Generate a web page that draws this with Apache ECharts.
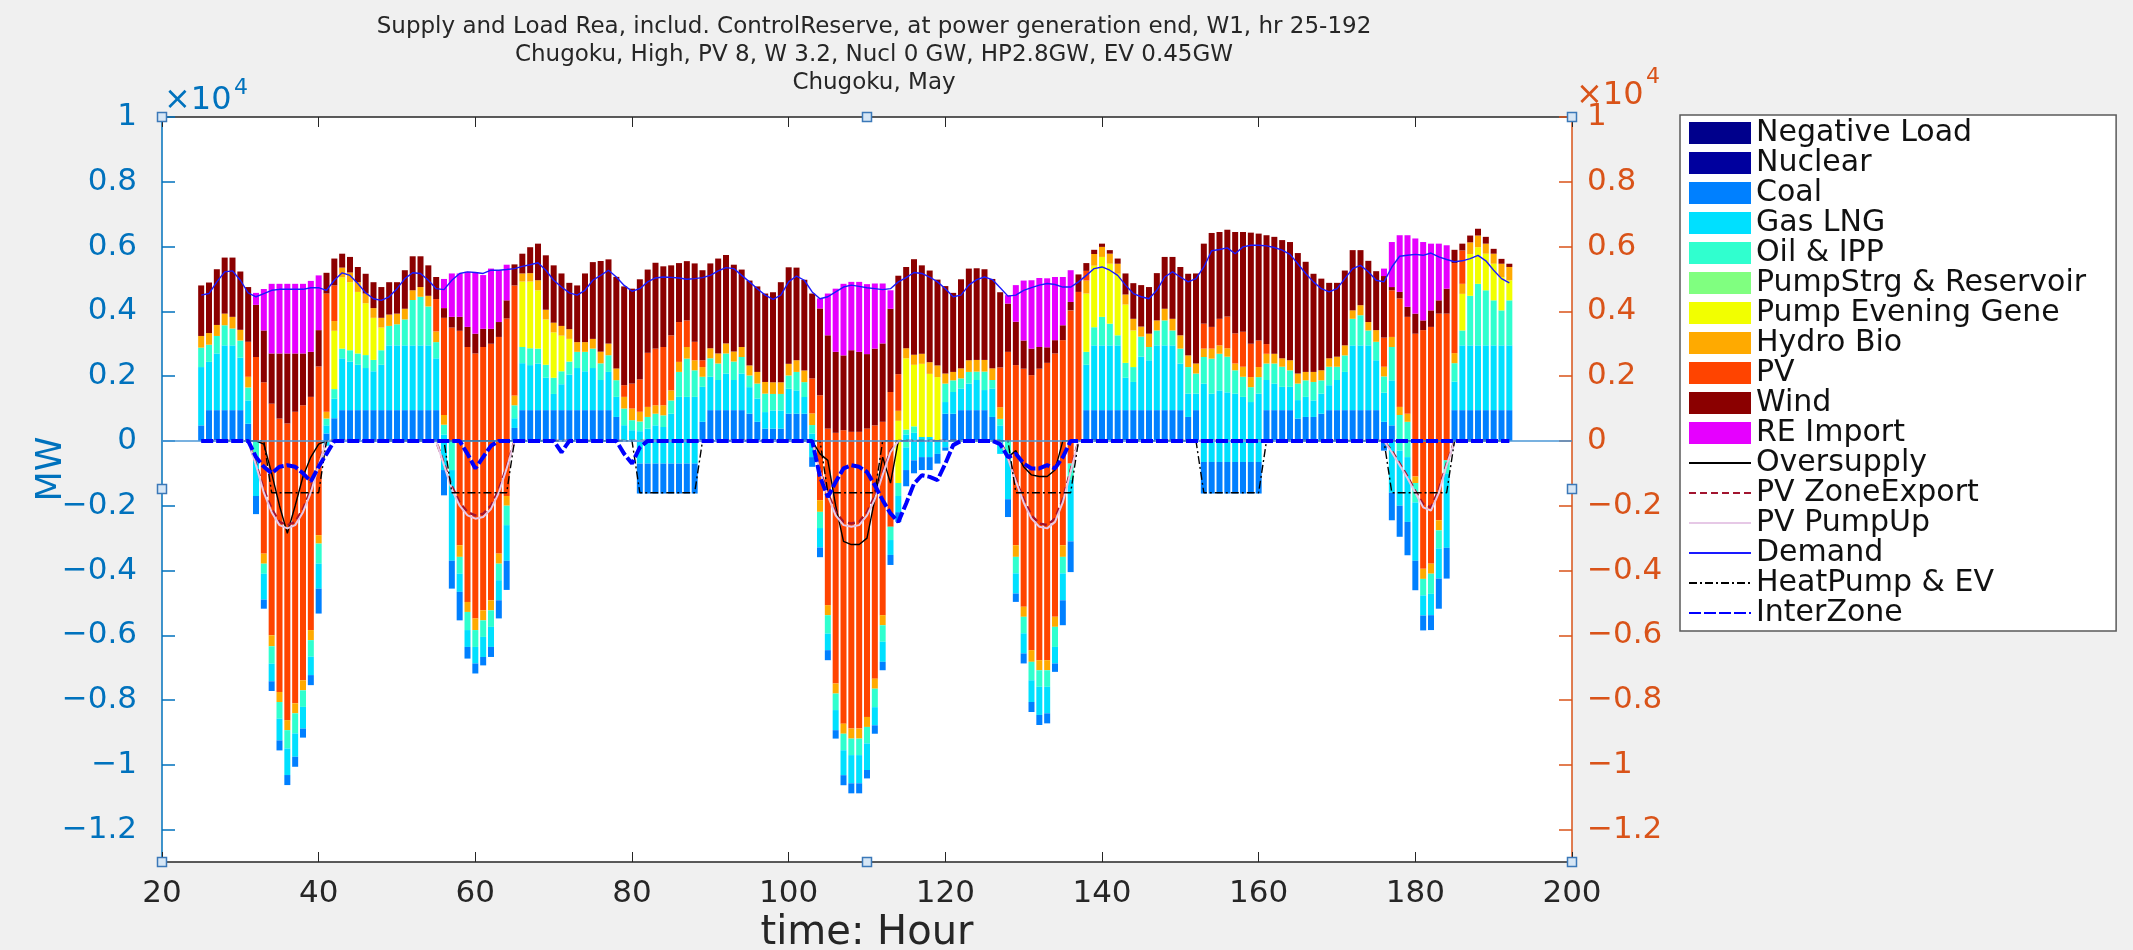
<!DOCTYPE html>
<html><head><meta charset="utf-8">
<script src="https://cdn.jsdelivr.net/npm/echarts@6/dist/echarts.min.js"></script>
<style>html,body{margin:0;padding:0;background:#f0f0f0;} #c{width:2133px;height:950px;}</style>
</head><body><div id="c"></div><script>
// x axis categories (hours 20..200) and the hours that carry data (25..192)
const axisHours = [20,21,22,23,24,25,26,27,28,29,30,31,32,33,34,35,36,37,38,39,40,41,42,43,44,45,46,47,48,49,50,51,52,53,54,55,56,57,58,59,
60,61,62,63,64,65,66,67,68,69,70,71,72,73,74,75,76,77,78,79,80,81,82,83,84,85,86,87,88,89,90,91,92,93,94,95,96,97,98,99,
100,101,102,103,104,105,106,107,108,109,110,111,112,113,114,115,116,117,118,119,120,121,122,123,124,125,126,127,128,129,130,131,132,133,134,135,136,137,138,139,
140,141,142,143,144,145,146,147,148,149,150,151,152,153,154,155,156,157,158,159,160,161,162,163,164,165,166,167,168,169,170,171,172,173,174,175,176,177,178,179,
180,181,182,183,184,185,186,187,188,189,190,191,192,193,194,195,196,197,198,199,200];
const hours = [
25,26,27,28,29,30,31,32,33,34,35,36,37,38,39,40,41,42,43,44,45,46,47,48,
49,50,51,52,53,54,55,56,57,58,59,60,61,62,63,64,65,66,67,68,69,70,71,72,
73,74,75,76,77,78,79,80,81,82,83,84,85,86,87,88,89,90,91,92,93,94,95,96,
97,98,99,100,101,102,103,104,105,106,107,108,109,110,111,112,113,114,115,116,117,118,119,120,
121,122,123,124,125,126,127,128,129,130,131,132,133,134,135,136,137,138,139,140,141,142,143,144,
145,146,147,148,149,150,151,152,153,154,155,156,157,158,159,160,161,162,163,164,165,166,167,168,
169,170,171,172,173,174,175,176,177,178,179,180,181,182,183,184,185,186,187,188,189,190,191,192];

const coal = [
480,950,950,950,950,950,530,0,0,0,0,0,0,0,0,0,230,700,950,950,950,950,950,950,
950,950,950,950,950,950,950,0,0,0,0,0,0,0,0,0,400,950,950,950,950,950,950,950,
950,950,950,950,950,740,0,0,0,0,0,0,0,0,0,0,590,950,950,950,950,950,840,590,
380,380,380,840,840,840,0,0,0,0,0,0,0,0,0,0,0,0,0,0,0,0,0,840,
840,950,950,950,950,740,0,0,0,0,0,0,0,0,0,0,0,950,950,950,950,950,950,950,
950,950,950,950,950,950,740,950,0,0,0,0,0,0,0,0,950,950,950,950,690,740,740,840,
950,950,950,950,950,950,950,590,480,0,0,0,0,0,0,0,950,950,950,950,950,950,950,950];
const gas = [
1800,1490,1750,2000,2000,1620,720,0,0,0,0,0,0,0,0,0,250,600,1600,1500,1400,1300,1200,1400,
2000,2000,2000,2000,2000,2000,1600,200,0,0,0,0,0,0,0,0,300,1450,1390,1440,1000,500,800,1100,
1300,1200,1300,930,1180,620,485,330,300,380,480,430,840,1360,1360,1360,1080,1030,930,1130,930,1130,820,720,
510,560,560,770,720,515,230,0,0,0,0,0,0,0,0,0,0,0,200,250,120,120,0,360,
670,670,820,930,620,880,480,0,0,0,0,0,0,0,0,0,0,1400,2000,2000,2000,2000,1000,870,
1650,1540,2000,2000,2000,1440,720,510,1770,1460,1560,1500,1460,1360,1200,1460,930,820,720,720,570,620,510,620,
770,930,1180,2000,2000,2000,1540,900,1390,0,0,0,0,0,0,0,880,2000,2000,2000,2000,2000,2000,2000];
const oil = [
600,530,540,620,520,530,400,0,0,0,0,0,0,0,0,0,210,300,300,350,350,400,350,450,
600,650,800,1400,1500,1200,500,300,0,0,0,0,0,0,0,0,400,500,520,460,400,500,400,400,
500,600,600,515,515,515,515,310,300,360,360,360,410,770,1180,820,310,570,510,620,570,510,360,460,
570,510,510,410,570,460,260,0,0,0,0,0,0,0,0,0,0,0,150,200,0,0,0,570,
360,310,360,260,570,260,200,0,0,0,0,0,0,0,0,0,0,400,560,880,670,310,460,460,
620,410,460,770,460,460,820,620,820,1080,1130,1100,720,620,460,510,510,620,620,510,510,510,570,410,
570,410,510,820,930,460,570,500,1030,800,590,0,0,0,0,0,570,460,1530,1900,1700,1390,1080,1390];
const pumpEvening = [
0,0,0,0,0,0,0,0,0,0,0,0,0,0,0,0,0,1800,2200,2100,1900,1600,1300,700,
0,0,0,0,0,0,0,0,0,0,0,0,0,0,0,0,0,2020,2060,1800,1400,1400,1100,700,
0,0,0,0,0,0,0,0,0,0,0,0,0,0,0,0,0,0,0,0,0,0,0,0,
0,0,0,0,0,0,0,0,0,0,0,0,0,0,0,0,0,620,2200,1900,2260,1950,1970,0,
0,0,0,0,0,0,0,0,0,0,0,0,0,0,0,0,0,1800,1900,1850,1850,1900,1800,1130,
0,0,0,0,0,0,0,0,0,0,0,0,0,0,0,0,0,0,0,0,0,0,0,0,
0,0,0,0,0,0,0,0,0,0,0,0,0,0,0,0,0,1130,1290,1130,1130,1130,1030,620];
const hydro = [
360,360,340,360,360,330,330,0,0,0,0,0,0,0,0,0,210,300,300,300,300,300,300,300,
350,330,330,300,300,330,330,300,0,0,0,0,0,0,0,0,300,250,260,310,300,300,300,300,
300,300,300,360,360,360,360,360,300,310,260,310,310,310,360,310,300,310,310,310,310,310,310,360,
360,360,360,360,360,360,360,0,0,0,0,0,0,0,0,0,0,310,310,310,310,360,360,310,
260,310,360,360,360,360,360,0,0,0,0,0,0,0,0,0,0,400,360,310,310,310,310,360,
310,410,310,360,360,410,360,310,260,310,260,260,210,310,310,310,300,300,260,310,310,260,310,310,
260,310,310,260,310,260,360,300,310,250,250,0,0,0,0,0,310,310,360,360,310,310,410,410];
const pv = [
0,0,0,0,0,0,1080,2590,1810,1150,690,540,900,1100,1360,2300,3650,1100,0,0,0,0,0,0,
0,0,0,0,0,0,1000,3000,3500,3400,2900,2700,2900,3000,3210,3780,3400,0,0,0,0,0,0,0,
0,0,0,0,0,0,360,770,1000,1670,1750,1800,1700,1230,820,570,210,0,0,0,0,0,0,0,
0,0,0,0,0,0,1080,1410,380,250,330,280,280,380,480,590,1510,1130,0,0,0,0,0,0,
0,0,0,0,0,0,1230,2750,2340,2230,2030,2230,2410,2700,3110,4030,4600,300,0,0,0,0,0,0,
0,0,0,0,0,0,0,0,770,670,820,980,930,1080,1030,820,300,0,0,0,0,0,0,0,
0,0,0,0,0,0,0,900,1440,3350,2990,3310,3420,3520,3930,3930,2780,1030,0,0,0,0,0,0];
const wind = [
1560,1560,1720,1730,1830,1800,1690,1610,1600,1550,2010,2160,1800,1600,1390,1120,640,830,430,480,470,610,800,950,
1000,970,1190,1050,950,940,680,300,330,430,620,610,560,460,460,560,650,610,800,1130,1680,1770,1620,1430,
1750,2120,2370,2800,2600,2830,3050,2930,3090,2570,2650,2490,2160,1820,1830,2420,2780,2620,2930,2730,2680,2390,2620,2640,
2730,2780,3090,2980,2860,2800,2620,2680,2880,2500,2310,2520,2470,2300,2370,2420,2570,3040,2510,2950,2730,2830,2650,2700,
2440,2750,2830,2830,2800,2760,2320,1490,1340,870,820,670,480,410,460,260,540,240,130,100,110,160,650,1100,
1280,1440,1460,1600,1910,2110,2520,2780,2470,2900,2680,2680,3130,3080,3430,3300,3360,3610,3650,3650,3720,3400,3030,2830,
2330,2280,2310,1860,1700,1890,1820,1900,100,200,310,620,300,510,410,770,410,210,210,210,210,150,150,100];
const reImport = [
0,0,0,0,0,0,0,370,1280,2150,2150,2150,2150,2150,2190,1690,0,0,0,0,0,0,0,0,
0,0,0,0,0,0,0,900,1340,1340,1700,1890,1660,1860,1600,1100,0,0,0,0,0,0,0,0,
0,0,0,0,0,0,0,0,0,0,0,0,0,0,0,0,0,0,0,0,0,0,0,0,
0,0,0,0,0,0,0,310,1290,1950,2210,2110,2160,2160,2010,1850,570,0,0,0,0,0,0,0,
0,0,0,0,0,0,0,260,1130,1850,2110,2130,2130,1950,1490,980,0,0,0,0,0,0,0,0,
0,0,0,0,0,0,0,0,0,0,0,0,0,0,0,0,0,0,0,0,0,0,0,0,
0,0,0,0,0,0,0,230,1390,1750,2210,2320,2420,2060,1750,1340,0,0,0,0,0,0,0,0];

// generation shifted below zero, stacked downward: PV nearest zero, coal deepest
const negPV = [
0,0,0,0,0,0,0,0,-3480,-6000,-7750,-8620,-8100,-7390,-5840,-2910,0,0,0,0,0,0,0,0,
0,0,0,0,0,0,0,0,0,-3220,-4970,-5480,-5230,-4920,-3480,-1700,0,0,0,0,0,0,0,0,
0,0,0,0,0,0,0,0,0,0,0,0,0,0,0,0,0,0,0,0,0,0,0,0,
0,0,0,0,0,0,0,-1830,-5070,-7490,-8730,-8880,-8880,-8520,-7340,-5380,-2650,0,0,0,0,0,0,0,
0,0,0,0,0,0,0,0,-3220,-5120,-6460,-6770,-6770,-5430,-3220,-700,0,0,0,0,0,0,0,0,
0,0,0,0,0,0,0,0,0,0,0,0,0,0,0,0,0,0,0,0,0,0,0,0,
0,0,0,0,0,0,0,0,0,0,0,-1100,-3950,-3790,-2450,-600,0,0,0,0,0,0,0,0];
const negPumpEvening = [
0,0,0,0,0,0,0,0,0,0,0,0,0,0,0,0,0,0,0,0,0,0,0,0,
0,0,0,0,0,0,0,0,0,0,0,0,0,0,0,0,0,0,0,0,0,0,0,0,
0,0,0,0,0,0,0,0,0,0,0,0,0,0,0,0,0,0,0,0,0,0,0,0,
0,0,0,0,0,0,0,0,0,0,0,0,0,0,0,0,0,-1300,0,0,0,0,0,0,
0,0,0,0,0,0,0,0,0,0,0,0,0,0,0,0,0,0,0,0,0,0,0,0,
0,0,0,0,0,0,0,0,0,0,0,0,0,0,0,0,0,0,0,0,0,0,0,0,
0,0,0,0,0,0,0,0,0,0,0,0,0,0,0,0,0,0,0,0,0,0,0,0];
const negHydro = [
0,0,0,0,0,0,0,0,-310,-340,-310,-310,-310,-310,-310,-260,0,0,0,0,0,0,0,0,
0,0,0,0,0,0,0,0,0,-360,-310,-360,-310,-310,-310,-300,0,0,0,0,0,0,0,0,
0,0,0,0,0,0,0,0,0,0,0,0,0,0,0,0,0,0,0,0,0,0,0,0,
0,0,0,0,0,0,0,-360,-310,-310,-310,-310,-310,-310,-310,-310,0,0,0,0,0,0,0,0,
0,0,0,0,0,0,0,0,-360,-310,-360,-310,-310,-310,-360,0,0,0,0,0,0,0,0,0,
0,0,0,0,0,0,0,0,0,0,0,0,0,0,0,0,0,0,0,0,0,0,0,0,
0,0,0,0,0,0,0,0,0,0,0,-200,-310,-310,-310,0,0,0,0,0,0,0,0,0];
const negOil = [
0,0,0,0,0,0,0,-500,-310,-535,-515,-565,-620,-510,-510,-620,0,0,0,0,0,0,0,0,
0,0,0,0,0,0,0,0,-900,-520,-560,-520,-510,-510,-510,-600,0,0,0,0,0,0,0,0,
0,0,0,0,0,0,0,0,0,0,0,0,0,0,0,0,0,0,0,0,0,0,0,0,
0,0,0,0,0,0,0,-500,-570,-510,-510,-510,-510,-510,-570,-510,-410,-400,-200,0,0,0,0,0,
0,0,0,0,0,0,0,-400,-510,-510,-570,-510,-510,-620,-510,-500,0,0,0,0,0,0,0,0,
0,0,0,0,0,0,0,0,0,0,0,0,0,0,0,0,0,0,0,0,0,0,0,0,
0,0,0,0,0,0,0,0,0,-300,-500,-600,-510,-620,-560,-400,0,0,0,0,0,0,0,0];
const negGas = [
0,0,0,0,0,0,0,-1200,-800,-545,-670,-820,-720,-670,-570,-770,-150,0,0,0,0,0,0,0,
0,0,0,0,0,0,0,-900,-2800,-560,-520,-510,-620,-620,-620,-1100,0,0,0,0,0,0,0,0,
0,0,0,0,0,0,0,0,-700,-700,-700,-700,-700,-700,-700,-700,0,0,0,0,0,0,0,0,
0,0,0,0,0,0,-500,-600,-510,-620,-770,-870,-870,-820,-560,-620,-460,-500,-700,-600,-500,-500,-400,-200,
0,0,0,0,0,0,-400,-1400,-620,-620,-670,-870,-820,-510,-830,-1900,0,0,0,0,0,0,0,0,
0,0,0,0,0,0,0,0,-650,-650,-650,-650,-650,-650,-650,-650,0,0,0,0,0,0,0,0,
0,0,0,0,0,0,0,0,-1600,-1700,-2000,-1800,-620,-660,-930,-2300,0,0,0,0,0,0,0,0];
const negCoal = [
0,0,0,0,0,0,0,-560,-280,-300,-310,-310,-310,-280,-310,-770,0,0,0,0,0,0,0,0,
0,0,0,0,0,0,0,-780,-860,-880,-360,-310,-260,-310,-560,-900,0,0,0,0,0,0,0,0,
0,0,0,0,0,0,0,0,-925,-925,-925,-925,-925,-925,-925,-925,0,0,0,0,0,0,0,0,
0,0,0,0,0,0,-300,-300,-310,-260,-310,-310,-310,-260,-260,-260,-310,-300,-500,-400,-400,-400,-300,-100,
0,0,0,0,0,0,0,-550,-260,-310,-310,-310,-310,-260,-770,-950,0,0,0,0,0,0,0,0,
0,0,0,0,0,0,0,0,-975,-975,-975,-975,-975,-975,-975,-975,0,0,0,0,0,0,0,0,
0,0,0,0,0,0,0,-300,-850,-960,-1030,-910,-460,-460,-930,-950,0,0,0,0,0,0,0,0];

const demand = [
4500,4550,4910,5220,5250,4960,4570,4450,4550,4650,4680,4680,4680,4680,4730,4730,4650,4960,5190,5110,4860,4570,4390,4340,
4450,4700,5010,5190,5170,4960,4700,4670,4960,5170,5220,5200,5170,5270,5270,5290,5320,5390,5440,5500,5270,4960,4750,4570,
4500,4650,4960,5110,5270,5060,4800,4620,4700,4910,5030,5060,5050,5030,4990,5010,5040,5110,5250,5350,5320,5110,4910,4700,
4500,4370,4500,4910,5090,4960,4600,4390,4450,4600,4750,4810,4770,4730,4700,4670,4700,4910,5040,5200,5170,5060,4910,4700,
4450,4500,4810,4980,5060,4980,4730,4470,4500,4650,4730,4810,4860,4830,4750,4750,4910,5110,5320,5370,5270,5110,4810,4550,
4450,4390,4650,5060,5220,5060,4910,5010,5370,5870,5910,5960,5780,5990,6040,6040,6020,5970,5890,5760,5470,5170,4910,4700,
4600,4700,5010,5320,5420,5220,4960,4910,5370,5700,5730,5760,5730,5800,5680,5600,5530,5560,5630,5730,5560,5270,5010,4880];
const oversupply = [
0,0,0,0,0,0,0,0,-100,-1000,-2000,-2850,-2000,-1100,-500,-100,0,0,0,0,0,0,0,0,
0,0,0,0,0,0,0,0,0,0,0,0,0,0,0,0,0,0,0,0,0,0,0,0,
0,0,0,0,0,0,0,0,0,0,0,0,0,0,0,0,0,0,0,0,0,0,0,0,
0,0,0,0,0,0,0,-400,-600,-2000,-3100,-3200,-3200,-3000,-1800,-500,-1300,0,0,0,0,0,0,0,
0,0,0,0,0,0,0,-500,-300,-800,-1050,-1100,-1100,-900,0,0,0,0,0,0,0,0,0,0,
0,0,0,0,0,0,0,0,0,0,0,0,0,0,0,0,0,0,0,0,0,0,0,0,
0,0,0,0,0,0,0,0,0,0,0,0,0,0,0,0,0,0,0,0,0,0,0,0];
const pvZoneExport = [
0,0,0,0,0,0,0,-700,-1500,-2100,-2500,-2600,-2500,-2100,-1500,-700,0,0,0,0,0,0,0,0,
0,0,0,0,0,0,0,-700,-1400,-1900,-2200,-2300,-2250,-2000,-1500,-800,0,0,0,0,0,0,0,0,
0,0,0,0,0,0,0,0,0,0,0,0,0,0,0,0,0,0,0,0,0,0,0,0,
0,0,0,0,0,0,0,-900,-1600,-2200,-2500,-2550,-2500,-2200,-1700,-1000,-300,0,0,0,0,0,0,0,
0,0,0,0,0,0,0,-500,-1200,-1800,-2300,-2550,-2600,-2400,-1800,-900,0,0,0,0,0,0,0,0,
0,0,0,0,0,0,0,0,0,0,0,0,0,0,0,0,0,0,0,0,0,0,0,0,
0,0,0,0,0,0,0,0,-300,-700,-1100,-1550,-1950,-2050,-1500,-700,0,0,0,0,0,0,0,0];
const pvPumpUp = [
0,0,0,0,0,0,0,-750,-1600,-2200,-2600,-2700,-2600,-2200,-1600,-750,0,0,0,0,0,0,0,0,
0,0,0,0,0,0,0,-750,-1500,-2000,-2300,-2400,-2350,-2100,-1600,-850,0,0,0,0,0,0,0,0,
0,0,0,0,0,0,0,0,0,0,0,0,0,0,0,0,0,0,0,0,0,0,0,0,
0,0,0,0,0,0,0,-950,-1700,-2300,-2600,-2650,-2600,-2300,-1800,-1050,-350,0,0,0,0,0,0,0,
0,0,0,0,0,0,0,-550,-1250,-1900,-2400,-2650,-2700,-2500,-1900,-950,0,0,0,0,0,0,0,0,
0,0,0,0,0,0,0,0,0,0,0,0,0,0,0,0,0,0,0,0,0,0,0,0,
0,0,0,0,0,0,0,0,-350,-750,-1150,-1600,-2050,-2150,-1600,-750,0,0,0,0,0,0,0,0];
const heatPumpEV = [
0,0,0,0,0,0,0,0,0,-1600,-1600,-1600,-1600,-1600,-1600,-1600,0,0,0,0,0,0,0,0,
0,0,0,0,0,0,0,0,-1600,-1600,-1600,-1600,-1600,-1600,-1600,-1600,0,0,0,0,0,0,0,0,
0,0,0,0,0,0,0,0,-1600,-1600,-1600,-1600,-1600,-1600,-1600,-1600,0,0,0,0,0,0,0,0,
0,0,0,0,0,0,0,0,-1600,-1600,-1600,-1600,-1600,-1600,-1600,0,0,0,0,0,0,0,0,0,
0,0,0,0,0,0,0,0,-1600,-1600,-1600,-1600,-1600,-1600,-1600,-1600,0,0,0,0,0,0,0,0,
0,0,0,0,0,0,0,0,-1600,-1600,-1600,-1600,-1600,-1600,-1600,-1600,0,0,0,0,0,0,0,0,
0,0,0,0,0,0,0,0,-1600,-1600,-1600,-1600,-1600,-1600,-1600,-1600,0,0,0,0,0,0,0,0];
const interZone = [
0,0,0,0,0,0,0,-500,-800,-1000,-800,-750,-800,-1000,-1250,-800,-400,0,0,0,0,0,0,0,
0,0,0,0,0,0,0,0,0,0,-400,-850,-500,-150,0,0,0,0,0,0,0,0,-350,0,
0,0,0,0,0,0,-400,-700,-200,0,0,0,0,0,0,0,0,0,0,0,0,0,0,0,
0,0,0,0,0,0,0,-1110,-1730,-1270,-850,-750,-800,-960,-1370,-1830,-2240,-2500,-1930,-1320,-1060,-1110,-1210,-700,
-130,0,0,0,0,0,-100,-500,-400,-700,-850,-850,-750,-850,-500,0,0,0,0,0,0,0,0,0,
0,0,0,0,0,0,0,0,0,0,0,0,0,0,0,0,0,0,0,0,0,0,0,0,
0,0,0,0,0,0,0,0,0,0,0,0,0,0,0,0,0,0,0,0,0,0,0,0];

const yTicks = [-12000,-10000,-8000,-6000,-4000,-2000,0,2000,4000,6000,8000,10000];
const titleLines = ['Supply and Load Rea, includ. ControlReserve, at power generation end, W1, hr 25-192',
  'Chugoku, High, PV 8, W 3.2, Nucl 0 GW, HP2.8GW, EV 0.45GW', 'Chugoku, May'];

const BLUE = '#0072BD', ORANGE = '#D95319', DARK = '#262626';
const FONT = 'DejaVu Sans';
const onAxis = (arr, dropZero) => axisHours.map(h => {
  const i = hours.indexOf(h);
  if (i < 0) return '-';
  return (dropZero && arr[i] === 0) ? '-' : arr[i];
});
const bar = (name, arr, color, extra) => Object.assign({
  name, type: 'bar', stack: 'gen', stackStrategy: 'samesign', barWidth: 6,
  data: arr ? onAxis(arr, true) : [], itemStyle: {color}, emphasis: {disabled: true}
}, extra || {});
const line = (name, arr, color, width, type, z) => ({
  name, type: 'line', data: onAxis(arr, false), symbol: 'none', showSymbol: false,
  lineStyle: {color, width, type}, itemStyle: {color}, z: z || 4, emphasis: {disabled: true}
});
const fmt = v => Number(v) === 0 ? '0' : String(Math.round(v / 1000) / 10).replace('-', '\u2212');

const C = {neg:'#00008C', nuc:'#00009E', coal:'#0080FF', gas:'#00E0FF', oil:'#30FFCF', ps:'#80FF80',
  yel:'#F2FF00', hyd:'#FFAA00', pv:'#FF4400', wind:'#8B0000', re:'#E600FF'};

const series = [
  bar('Negative Load', null, C.neg),
  bar('Nuclear', null, C.nuc),
  bar('Coal', coal, C.coal, {markLine: {silent: true, symbol: 'none', label: {show: false},
      lineStyle: {color: '#4b97d6', width: 1.5, type: 'solid'}, data: [{yAxis: 0}]}}),
  bar('Gas LNG', gas, C.gas),
  bar('Oil & IPP', oil, C.oil),
  bar('PumpStrg & Reservoir', null, C.ps),
  bar('Pump Evening Gene', pumpEvening, C.yel),
  bar('Hydro Bio', hydro, C.hyd),
  bar('PV', pv, C.pv),
  bar('Wind', wind, C.wind),
  bar('RE Import', reImport, C.re),
  bar('PV shifted', negPV, C.pv),
  bar('Pump Evening shifted', negPumpEvening, C.yel),
  bar('Hydro shifted', negHydro, C.hyd),
  bar('Oil shifted', negOil, C.oil),
  bar('Gas shifted', negGas, C.gas),
  bar('Coal shifted', negCoal, C.coal),
  line('Oversupply', oversupply, '#000000', 1.4, 'solid'),
  line('PV ZoneExport', pvZoneExport, '#A2142F', 2.4, [7, 4]),
  line('PV PumpUp', pvPumpUp, '#E6C8E6', 2, 'solid'),
  line('Demand', demand, '#1a1aff', 1.4, 'solid'),
  line('HeatPump & EV', heatPumpEV, '#000000', 1.4, [8, 3, 2, 3]),
  line('InterZone', interZone, '#0000FF', 4, [12, 3], 5)
];

const legendNames = ['Negative Load','Nuclear','Coal','Gas LNG','Oil & IPP','PumpStrg & Reservoir','Pump Evening Gene',
  'Hydro Bio','PV','Wind','RE Import','Oversupply','PV ZoneExport','PV PumpUp','Demand','HeatPump & EV','InterZone'];
const barNames = legendNames.slice(0, 11);

const handle = (x, y) => ({type: 'rect', shape: {x: x - 4.5, y: y - 4.5, width: 9, height: 9},
  style: {fill: '#d6e6f5', stroke: '#3b78b8', lineWidth: 1.5}, z: 100});

const xCommon = {type: 'category', data: axisHours, boundaryGap: false,
  axisLine: {show: true, onZero: false, lineStyle: {color: DARK, width: 1.5}},
  axisTick: {show: true, inside: true, length: 10, interval: 19, lineStyle: {color: DARK}},
  splitLine: {show: false}};

const chart = echarts.init(document.getElementById('c'), null, {renderer: 'canvas'});
chart.setOption({
  animation: false,
  backgroundColor: '#f0f0f0',
  title: {text: titleLines.join('\n'), left: 869, top: 8, textAlign: 'center',
    textStyle: {fontSize: 23, fontWeight: 'normal', fontFamily: FONT, color: DARK, lineHeight: 28}},
  grid: {left: 162, right: 561, top: 117, bottom: 88, show: true, backgroundColor: '#ffffff', borderWidth: 0},
  legend: {orient: 'vertical', left: 1680, top: 115, padding: [3, 30, 3, 8], itemWidth: 62, itemHeight: 22,
    itemGap: 0, backgroundColor: '#ffffff', borderColor: '#5a5a5a', borderWidth: 1.5, selectedMode: false,
    textStyle: {fontSize: 30, fontFamily: FONT, color: '#111', lineHeight: 28},
    data: legendNames.map(n => barNames.includes(n) ? {name: n, icon: 'rect'} : {name: n, itemStyle: {opacity: 0}})},
  xAxis: [
    Object.assign({}, xCommon, {position: 'bottom',
      axisLabel: {interval: 19, color: DARK, fontSize: 31, fontFamily: FONT, margin: 16}}),
    Object.assign({}, xCommon, {position: 'top', axisLabel: {show: false}})
  ],
  yAxis: [
    {type: 'value', position: 'left', min: -13000, max: 10000, interval: 1000,
      axisLine: {show: true, lineStyle: {color: BLUE, width: 1.5}},
      axisTick: {show: true, inside: true, length: 13, customValues: yTicks, lineStyle: {color: BLUE, width: 1.5}},
      axisLabel: {customValues: yTicks, formatter: fmt, color: BLUE, fontSize: 31, fontFamily: FONT, margin: 25},
      splitLine: {show: false}},
    {type: 'value', position: 'right', min: -13000, max: 10000, interval: 1000,
      axisLine: {show: true, lineStyle: {color: ORANGE, width: 1.5}},
      axisTick: {show: true, inside: true, length: 13, customValues: yTicks, lineStyle: {color: ORANGE, width: 1.5}},
      axisLabel: {customValues: yTicks, formatter: fmt, color: ORANGE, fontSize: 31, fontFamily: FONT, margin: 15},
      splitLine: {show: false}}
  ],
  graphic: [
    {type: 'text', x: 52, y: 469, rotation: Math.PI / 2,
      style: {text: 'MW', fill: BLUE, font: '35px "DejaVu Sans"', align: 'center', verticalAlign: 'middle'}},
    {type: 'text', x: 867, y: 914,
      style: {text: 'time: Hour', fill: DARK, font: '40px "DejaVu Sans"', align: 'center', verticalAlign: 'top'}},
    {type: 'text', x: 164, y: 101, style: {text: '\u00d710', fill: BLUE, font: '32px "DejaVu Sans"', align: 'left', verticalAlign: 'middle'}},
    {type: 'text', x: 234, y: 88, style: {text: '4', fill: BLUE, font: '22px "DejaVu Sans"', align: 'left', verticalAlign: 'middle'}},
    {type: 'text', x: 1576, y: 96, style: {text: '\u00d710', fill: ORANGE, font: '32px "DejaVu Sans"', align: 'left', verticalAlign: 'middle'}},
    {type: 'text', x: 1646, y: 77, style: {text: '4', fill: ORANGE, font: '22px "DejaVu Sans"', align: 'left', verticalAlign: 'middle'}},
    handle(162, 117), handle(867, 117), handle(1572, 117), handle(162, 489),
    handle(1572, 489), handle(162, 862), handle(867, 862), handle(1572, 862)
  ],
  series
});
</script></body></html>
